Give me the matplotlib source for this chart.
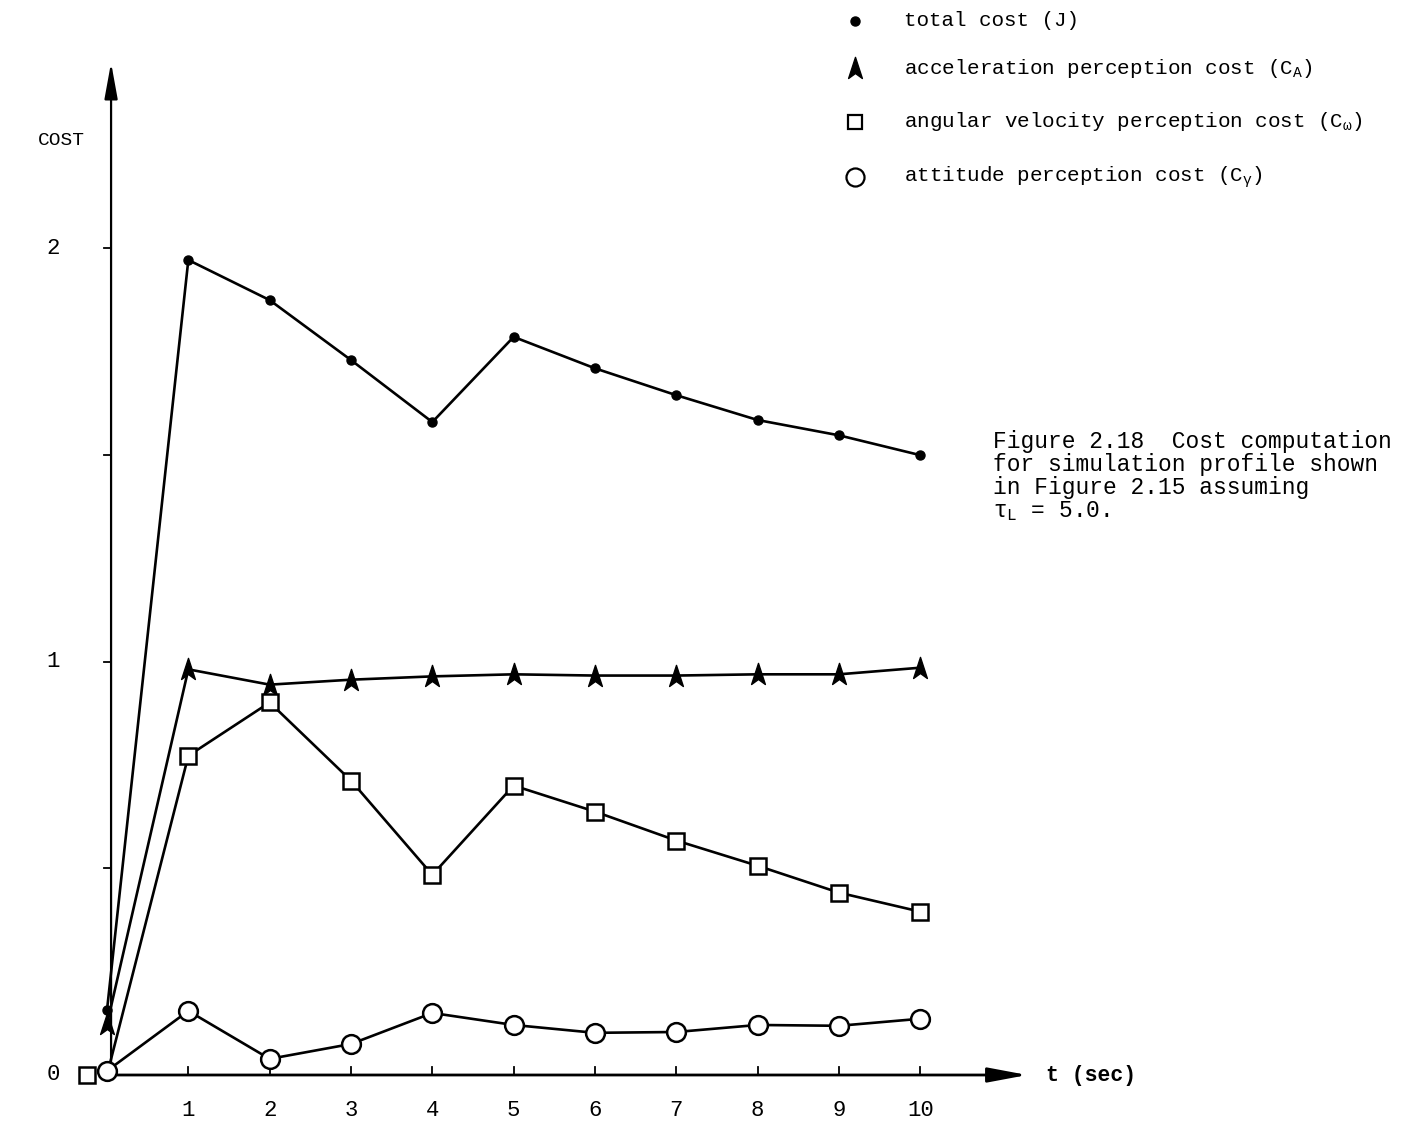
import numpy as np
import matplotlib
matplotlib.use('Agg')
import matplotlib.pyplot as plt
from matplotlib.path import Path

plt.rcParams['font.family'] = ['Liberation Mono', 'DejaVu Sans Mono']
plt.rcParams['mathtext.fontset'] = 'custom'
plt.rcParams['mathtext.rm'] = 'Liberation Mono'
plt.rcParams['mathtext.it'] = 'Liberation Mono'
plt.rcParams['mathtext.bf'] = 'Liberation Mono:bold'

# time points (sec)
t = np.arange(0, 11)

total_cost = [0.157, 1.971, 1.874, 1.729, 1.579, 1.785, 1.709, 1.644, 1.584, 1.547, 1.499]
accel_cost = [0.123, 0.981, 0.944, 0.956, 0.964, 0.969, 0.966, 0.966, 0.969, 0.969, 0.985]
angvel_cost = [0.0, 0.772, 0.901, 0.712, 0.484, 0.700, 0.637, 0.567, 0.506, 0.441, 0.395]
attitude_cost = [0.01, 0.155, 0.039, 0.075, 0.150, 0.121, 0.102, 0.104, 0.121, 0.119, 0.136]

# the angular velocity value at t = 0 is plotted just left of the origin
angvel_t0_pos = -0.24

x_ticks = [1, 2, 3, 4, 5, 6, 7, 8, 9, 10]
y_ticks = [0.5, 1.0, 1.5, 2.0]
y_labels = {0.0: '0', 1.0: '1', 2.0: '2'}

legend_labels = ['total cost (J)',
                 r'acceleration perception cost (C$_{\mathrm{A}}$)',
                 r'angular velocity perception cost (C$_{\mathrm{ω}}$)',
                 r'attitude perception cost (C$_{\mathrm{γ}}$)']

# arrowhead-like marker for the acceleration cost
arrow_verts = [(0, 1.0), (0.62, -0.9), (0, -0.45), (-0.62, -0.9), (0, 1.0)]
arrow_codes = [Path.MOVETO, Path.LINETO, Path.LINETO, Path.LINETO, Path.CLOSEPOLY]
arrow_marker = Path(arrow_verts, arrow_codes)

fig = plt.figure(figsize=(14.12, 11.25), dpi=100)
ax = fig.add_axes([0, 0, 1, 1])
ax.set_xlim(-107 / 81.33, (1412 - 107) / 81.33)
ax.set_ylim(-50 / 413.5, 1075 / 413.5)
ax.axis('off')

lw = 1.9
ax.plot(t, total_cost, '-', color='black', lw=lw, marker='o', ms=6.5, zorder=3)
ax.plot(t, accel_cost, '-', color='black', lw=lw, marker=arrow_marker, ms=16, zorder=3)
ax.plot(t, angvel_cost, '-', color='black', lw=lw, zorder=2)
ax.plot(t[1:], angvel_cost[1:], 's', color='black', mfc='white', mew=1.8, ms=12, zorder=4)
ax.plot([angvel_t0_pos], [angvel_cost[0]], 's', color='black', mfc='white', mew=1.8, ms=12, zorder=4)
ax.plot(t, attitude_cost, '-', color='black', lw=lw, marker='o', mfc='white', mew=1.8, ms=13.5, zorder=5)

# axes with arrowheads
x_end = 11.35
y_end = 2.455
ax.annotate('', xy=(x_end, 0), xytext=(0, 0),
            arrowprops=dict(arrowstyle='-|>,head_length=2.4,head_width=0.45', color='black', lw=2))
ax.annotate('', xy=(0.05, y_end), xytext=(0.05, 0),
            arrowprops=dict(arrowstyle='-|>,head_length=2.2,head_width=0.4', color='black', lw=1.6))

for xt in x_ticks:
    ax.plot([xt, xt], [0, 0.02], color='black', lw=1.3)
    ax.text(xt, -0.085, str(xt), ha='center', va='center', fontsize=16)
for yt in y_ticks:
    ax.plot([0.05 - 0.09, 0.05], [yt, yt], color='black', lw=1.3)
for yv, lab in y_labels.items():
    ax.text(-0.66, yv, lab, ha='center', va='center', fontsize=16)

ax.text(-0.85, 2.261, 'COST', ha='left', va='center', fontsize=14)
ax.text(11.55, 0, 't (sec)', ha='left', va='center', fontsize=15.5, fontweight='bold')

# legend
leg_x_mark = 9.2
leg_x_text = 9.8
leg_y = [2.55, 2.435, 2.305, 2.172]
ax.plot(leg_x_mark, leg_y[0], 'o', color='black', ms=6.5)
ax.plot(leg_x_mark, leg_y[1], marker=arrow_marker, color='black', ms=16)
ax.plot(leg_x_mark, leg_y[2], 's', color='black', mfc='white', mew=1.6, ms=10)
ax.plot(leg_x_mark, leg_y[3], 'o', color='black', mfc='white', mew=1.6, ms=13)
for yv, lab in zip(leg_y, legend_labels):
    ax.text(leg_x_text, yv, lab, ha='left', va='center', fontsize=15)

caption = ('Figure 2.18  Cost computation\n'
           'for simulation profile shown\n'
           'in Figure 2.15 assuming\n'
           r'$\mathrm{τ}_{\mathrm{L}}$ = 5.0.')
ax.text(10.9, 1.56, caption, ha='left', va='top', fontsize=16.5, linespacing=1.0)

fig.savefig('out.png', dpi=100)
